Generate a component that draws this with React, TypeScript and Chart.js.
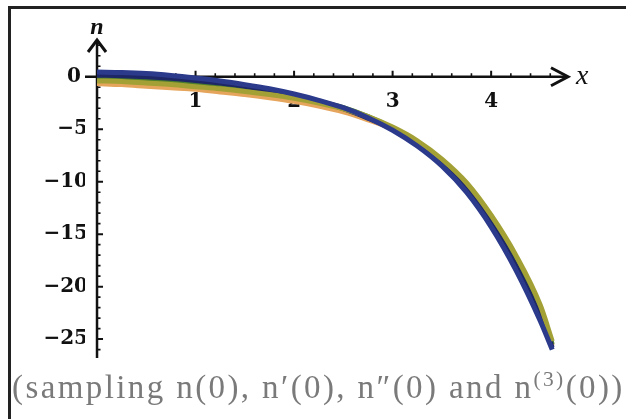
import React, { useEffect, useRef } from "react";
import { Chart, registerables } from "chart.js";

Chart.register(...registerables);

// sample positions along x
const xs = [0, 0.25, 0.5, 0.75, 1, 1.25, 1.5, 1.75, 2, 2.25, 2.5, 2.75, 3, 3.25, 3.5, 3.75, 4, 4.25, 4.5, 4.62];

// sampled solution curves n(x)
const nBlue = [0.45, 0.4, 0.3, 0.12, -0.12, -0.4, -0.75, -1.15, -1.65, -2.25, -2.95, -3.9, -5.1, -6.6, -8.5, -11.0, -14.3, -18.4, -23.3, -26.0];
const nOlive = [-0.4, -0.45, -0.6, -0.75, -0.95, -1.15, -1.4, -1.7, -2.05, -2.5, -3.05, -3.8, -4.8, -6.1, -7.85, -10.1, -13.2, -17.0, -21.8, -25.2];
const nNavy = [0.15, 0.1, 0.0, -0.15, -0.35, -0.6, -0.9, -1.3, -1.75, -2.35, -3.05, -3.95, -5.0, -6.45, -8.3, -10.75, -14.0, -18.0, -22.9, -25.8];
const nGreen = [-0.2, -0.25, -0.35, -0.5, -0.65, -0.85, -1.1, -1.45, -1.85, -2.35, -2.95, -3.8, -4.9, -6.25, -8.05, -10.4, -13.55, -17.45, -22.3, -25.5];
const nOrange = [-0.65, -0.75, -0.9, -1.05, -1.2, -1.45, -1.7, -2.0, -2.35, -2.8, -3.35, -4.1, -4.95, -6.3, -8.1, -10.45, -13.6, -17.5, -22.4, -25.6];

// first entry is drawn on top
const seriesList = [
  { name: "blue", values: nBlue, color: "#2c3a8c" },
  { name: "olive", values: nOlive, color: "#a3a136" },
  { name: "navy", values: nNavy, color: "#1e2766" },
  { name: "green", values: nGreen, color: "#4b7d2c" },
  { name: "orange", values: nOrange, color: "#e6a55c" },
];

// axis ticks
const xMajorTicks = [1, 2, 3, 4];
const xMinorTicks = [0.2, 0.4, 0.6, 0.8, 1.2, 1.4, 1.6, 1.8, 2.2, 2.4, 2.6, 2.8, 3.2, 3.4, 3.6, 3.8, 4.2, 4.4, 4.6];
const yMajorTicks = [0, -5, -10, -15, -20, -25];
const yMinorTicks = [3, 2, 1, -1, -2, -3, -4, -6, -7, -8, -9, -11, -12, -13, -14, -16, -17, -18, -19, -21, -22, -23, -24, -26];

const X_MIN = -0.122;
const X_MAX = 4.78;
const Y_MIN = -26.8;
const Y_MAX = 3.5;

const tickFont = { family: "'DejaVu Serif', serif", size: 20, weight: "bold" as const };

const axesPlugin = {
  id: "mathAxes",
  beforeDatasetsDraw(chart: any) {
    const { ctx, chartArea, scales } = chart;
    const xs_ = scales.x;
    const ys_ = scales.y;
    const x0 = xs_.getPixelForValue(0);
    const y0 = ys_.getPixelForValue(0);
    ctx.save();
    ctx.strokeStyle = "#111";
    ctx.lineCap = "butt";
    // axis lines
    ctx.lineWidth = 2.5;
    ctx.beginPath();
    ctx.moveTo(x0, chartArea.bottom);
    ctx.lineTo(x0, chartArea.top + 1);
    ctx.moveTo(chartArea.left, y0);
    ctx.lineTo(chartArea.right - 1, y0);
    ctx.stroke();
    // arrow heads
    ctx.lineWidth = 3;
    ctx.lineJoin = "miter";
    ctx.beginPath();
    ctx.moveTo(x0 - 9, chartArea.top + 12);
    ctx.lineTo(x0, chartArea.top);
    ctx.lineTo(x0 + 9, chartArea.top + 12);
    ctx.moveTo(chartArea.right - 17, y0 - 9);
    ctx.lineTo(chartArea.right, y0);
    ctx.lineTo(chartArea.right - 17, y0 + 9);
    ctx.stroke();
    // x ticks (pointing up)
    ctx.lineWidth = 2;
    ctx.beginPath();
    xMajorTicks.forEach((v) => {
      const p = xs_.getPixelForValue(v);
      ctx.moveTo(p, y0);
      ctx.lineTo(p, y0 - 6);
    });
    ctx.stroke();
    ctx.lineWidth = 1.6;
    ctx.beginPath();
    xMinorTicks.forEach((v) => {
      const p = xs_.getPixelForValue(v);
      ctx.moveTo(p, y0);
      ctx.lineTo(p, y0 - 3.5);
    });
    ctx.stroke();
    // y ticks (pointing right)
    ctx.lineWidth = 2;
    ctx.beginPath();
    yMajorTicks.forEach((v) => {
      const p = ys_.getPixelForValue(v);
      ctx.moveTo(x0, p);
      ctx.lineTo(x0 + 6, p);
    });
    ctx.stroke();
    ctx.lineWidth = 1.6;
    ctx.beginPath();
    yMinorTicks.forEach((v) => {
      const p = ys_.getPixelForValue(v);
      ctx.moveTo(x0, p);
      ctx.lineTo(x0 + 3.5, p);
    });
    ctx.stroke();
    // axis names
    ctx.fillStyle = "#111";
    ctx.textAlign = "center";
    ctx.textBaseline = "middle";
    ctx.font = "italic bold 24px 'Liberation Serif', serif";
    ctx.fillText("n", x0, chartArea.top - 12);
    ctx.textAlign = "left";
    ctx.font = "italic 28px 'Liberation Serif', serif";
    ctx.fillText("x", chartArea.right + 8, y0);
    ctx.restore();
  },
};

export default function App() {
  const canvasRef = useRef<HTMLCanvasElement | null>(null);

  useEffect(() => {
    if (!canvasRef.current) return;
    const chart = new Chart(canvasRef.current, {
      type: "line",
      data: {
        datasets: seriesList.map((s) => ({
          label: s.name,
          data: xs.map((x, i) => ({ x, y: s.values[i] })),
          borderColor: s.color,
          backgroundColor: s.color,
          borderWidth: 5,
          pointRadius: 0,
          cubicInterpolationMode: "monotone" as const,
          fill: false,
        })),
      },
      options: {
        responsive: false,
        animation: false,
        events: [],
        layout: { padding: { left: 0, top: 40, right: 58, bottom: 61 } },
        plugins: { legend: { display: false }, tooltip: { enabled: false }, title: { display: false } },
        scales: {
          x: {
            type: "linear",
            min: X_MIN,
            max: X_MAX,
            position: { y: 0 },
            grid: { display: false, drawTicks: false },
            border: { display: false },
            afterBuildTicks: (axis: any) => {
              axis.ticks = xMajorTicks.map((v) => ({ value: v }));
            },
            ticks: {
              autoSkip: false,
              maxRotation: 0,
              padding: 13,
              color: "#111",
              font: tickFont,
              callback: (v: any) => String(v),
            },
          },
          y: {
            type: "linear",
            min: Y_MIN,
            max: Y_MAX,
            position: "left",
            grid: { display: false, drawTicks: false },
            border: { display: false },
            afterFit: (scale: any) => {
              scale.width = 85;
            },
            afterBuildTicks: (axis: any) => {
              axis.ticks = yMajorTicks.map((v) => ({ value: v }));
            },
            ticks: {
              autoSkip: false,
              padding: -3,
              color: "#111",
              font: tickFont,
              callback: (v: any) => (v < 0 ? "\u2212" + String(-v) : String(v) + " "),
            },
          },
        },
      },
      plugins: [axesPlugin],
    });
    return () => chart.destroy();
  }, []);

  return (
    <div>
      <div
        style={{
          position: "fixed",
          left: 8,
          top: 6,
          width: 618,
          height: 413,
          boxSizing: "border-box",
          borderTop: "3px solid #222",
          borderLeft: "3px solid #222",
          background: "#fff",
        }}
      />
      <div style={{ position: "fixed", left: 0, top: 0, width: 626, height: 419 }}>
        <canvas ref={canvasRef} width={626} height={419} style={{ display: "block", width: 626, height: 419 }} />
      </div>
      <div
        style={{
          position: "fixed",
          left: 12,
          top: 361,
          fontFamily: "'Liberation Serif', serif",
          fontSize: 33,
          lineHeight: "36px",
          color: "#7a7a7a",
          whiteSpace: "nowrap",
          letterSpacing: "2.4px",
        }}
      >
        (sampling n(0), n{"\u2032"}(0), n{"\u2033"}(0) and n<sup style={{ fontSize: "0.65em", verticalAlign: "0.55em" }}>(3)</sup>(0))
      </div>
    </div>
  );
}
